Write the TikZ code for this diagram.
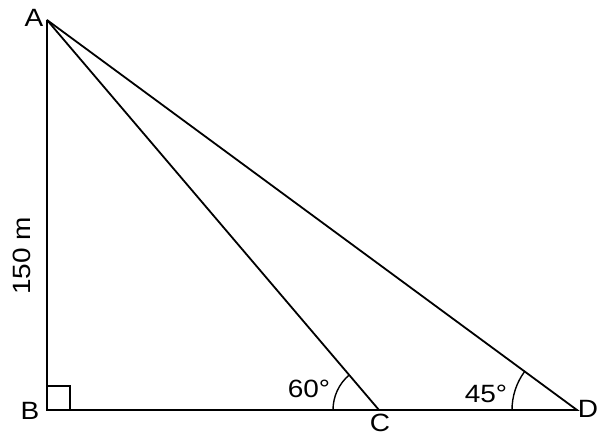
\documentclass[tikz,border=0pt]{standalone}
\usepackage{fontspec}
\setmainfont[FakeStretch=1.12]{Liberation Sans}
\usetikzlibrary{calc}
\begin{document}
\begin{tikzpicture}[x=1pt,y=-1pt,
  edge/.style={line width=1.8pt},
  thin/.style={line width=1.4pt},
  lbl/.style={font=\fontsize{25}{28}\selectfont, inner sep=0pt}]
\useasboundingbox (0,0) rectangle (606,436);
\coordinate (A) at (47,20);
\coordinate (B) at (47,410);
\coordinate (C) at (379,410);
\coordinate (D) at (577,410);
\draw[edge] (A) -- (B) -- (D) -- (A);
\draw[edge] (A) -- (C);
\draw[thin] (47,386) -| (70,410);
% angle arcs
\draw[thin] ($(C)+(-46,0)$) arc[start angle=180, end angle={180+49.6}, radius=46];
\draw[thin] ($(D)+(-65,0)$) arc[start angle=180, end angle={180+36.3}, radius=65];
\node[lbl] (la) at (34,18) {A};
\node[lbl] (lb) at (30,411) {B};
\node[lbl] (lc) at (380,423) {C};
\node[lbl] (ld) at (588,409) {D};
\node[lbl] (l60) at (309,389) {60°};
\node[lbl] (l45) at (486,394) {45°};
\node[lbl, rotate=90] (l150) at (22,256) {150 m};
\end{tikzpicture}
\end{document}
